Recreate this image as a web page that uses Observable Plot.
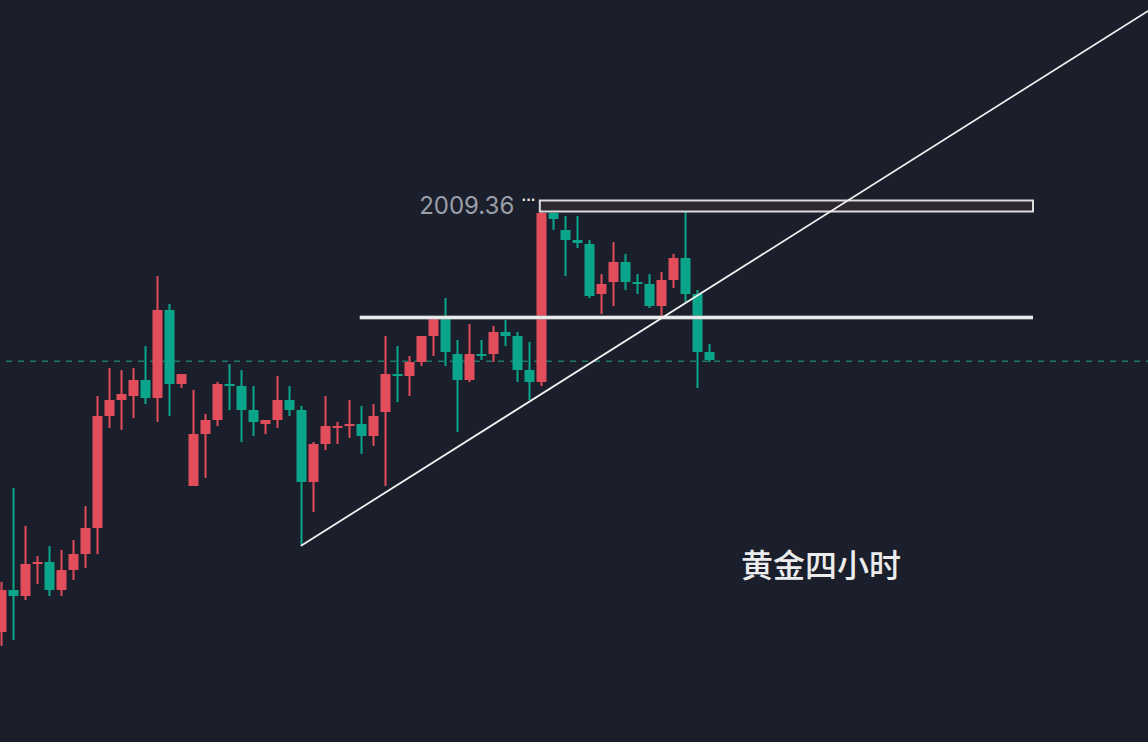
<!DOCTYPE html>
<html>
<head>
<meta charset="utf-8">
<script src="https://cdn.jsdelivr.net/npm/d3@7"></script>
<script src="https://cdn.jsdelivr.net/npm/@observablehq/plot@0.6"></script>
<style>
  html, body { margin: 0; padding: 0; background: #1b1f2b; overflow: hidden; }
  #chart svg { display: block; }
</style>
</head>
<body>
<div id="chart"></div>
<script>
// ---- data (4-hour gold candles) ----
const opens  = [1925.36,1933.76,1932.56,1938.96,1939.36,1933.76,1937.76,1940.96,1946.16,1968.56,
                1971.76,1972.56,1975.76,1972.16,1989.76,1974.96,1954.56,1964.96,1967.76,1974.96,
                1974.56,1969.76,1966.96,1967.76,1971.76,1969.76,1955.36,1962.96,1966.16,1966.56,
                1966.96,1964.56,1969.36,1976.96,1976.56,1979.36,1984.56,1988.16,1980.96,1975.76,
                1980.96,1980.96,1985.36,1984.56,1977.76,1975.36,2009.16,2005.76,2003.76,2002.96,
                1992.96,1995.36,1999.36,1995.36,1994.96,1990.56,1995.76,2000.16,1992.96,1981.36];
const highs  = [1935.36,1954.16,1946.56,1940.56,1942.56,1941.76,1943.76,1950.56,1972.56,1978.16,
                1977.76,1978.16,1982.56,1996.56,1990.96,1976.96,1973.76,1968.96,1975.36,1978.96,
                1977.76,1974.56,1967.76,1976.56,1974.56,1970.56,1963.36,1972.56,1967.36,1971.76,
                1970.56,1970.96,1984.56,1982.56,1980.56,1984.56,1988.16,1992.16,1983.76,1986.96,
                1983.76,1986.56,1987.76,1985.36,1983.36,2009.36,2009.16,2008.56,2008.56,2003.76,
                1996.96,2003.36,2000.96,1996.96,1996.96,1997.36,2000.96,2010.16,1993.76,1982.96];
const lows   = [1922.56,1923.76,1931.76,1934.96,1932.56,1932.56,1935.76,1938.16,1940.96,1966.16,
                1965.76,1968.16,1970.96,1967.36,1968.56,1974.16,1954.56,1956.16,1966.56,1969.76,
                1963.36,1964.56,1964.96,1966.16,1968.56,1942.76,1949.36,1961.76,1962.96,1964.16,
                1960.96,1962.56,1954.56,1971.36,1972.56,1978.56,1980.56,1978.56,1965.36,1975.36,
                1979.76,1979.36,1982.56,1975.36,1971.76,1974.56,2005.76,1996.56,2002.16,1992.16,
                1988.96,1990.56,1993.76,1992.96,1990.16,1988.16,1994.16,1991.36,1974.16,1979.36];
const closes = [1933.76,1932.56,1938.96,1939.36,1933.76,1937.76,1940.96,1946.16,1968.56,1971.76,
                1972.96,1975.76,1972.16,1989.76,1974.96,1976.96,1964.96,1967.76,1974.96,1974.56,
                1969.76,1967.36,1967.76,1971.76,1969.76,1955.36,1962.96,1966.56,1966.56,1966.96,
                1964.56,1968.56,1976.96,1976.56,1979.36,1984.56,1988.16,1981.36,1975.76,1980.96,
                1980.56,1985.36,1984.56,1977.76,1975.36,2009.16,2007.96,2003.76,2003.16,1992.56,
                1994.96,1999.36,1995.36,1994.96,1990.56,1995.76,2000.16,1992.96,1981.36,1979.76];

const lastPrice = 1979.6;            // dashed current-price line
const highLabel = ["2009.36"];
const highLevel = 2009.36;
const supportLevel = 1988.36;         // horizontal white line
const supportSpan = [29.9, 86];       // candle index span
const zoneBottom = 2009.46, zoneTop = 2011.66; // resistance box
const zoneSpan = [44.9, 86];
const trendIdx = [25, 95.6];          // rising trend line
const trendPrice = [1942.76, 2049.76];
const titleText = ["黄金四小时"];
const titlePos = {i: 68.3, price: 1938.56};

// ---- build tables ----
const candles = opens.map((o, i) => ({i, o, h: highs[i], l: lows[i], c: closes[i], up: closes[i] >= o}));
const trend = trendIdx.map((x, k) => ({x, y: trendPrice[k]}));
const RED = "#e14d5a", GREEN = "#0aa58b";
const col = d => d.up ? RED : GREEN;

const chart = Plot.plot({
  width: 1148,
  height: 742,
  margin: 0,
  x: {domain: [-1/12, 95.5833], axis: null},
  y: {domain: [1903.36, 2051.76], axis: null},
  style: {background: "#1b1f2b", overflow: "visible"},
  marks: [
    // current price dashed line
    Plot.ruleY([lastPrice], {stroke: "#1d7867", strokeWidth: 1.5, strokeDasharray: "6,6", strokeDashoffset: -6}),
    // wicks
    Plot.ruleX(candles, {x: "i", y1: "l", y2: "h", stroke: col, strokeWidth: 2}),
    // bodies
    Plot.ruleX(candles, {x: "i", y1: "o", y2: d => Math.abs(d.c - d.o) < 0.35 ? d.o + (d.up ? 0.4 : -0.4) : d.c, stroke: col, strokeWidth: 10}),
    // support line
    Plot.ruleY([supportLevel], {x1: supportSpan[0], x2: supportSpan[1], stroke: "#a9abb0", strokeWidth: 4}),
    Plot.ruleY([supportLevel], {x1: supportSpan[0], x2: supportSpan[1], stroke: "#f4f4f4", strokeWidth: 2.4}),
    // resistance box
    Plot.rect([{x1: zoneSpan[0], x2: zoneSpan[1], y1: zoneBottom, y2: zoneTop}],
      {x1: "x1", x2: "x2", y1: "y1", y2: "y2", fill: "#2d272f", stroke: "#dcdcdc", strokeWidth: 2}),
    // trend line
    Plot.line(trend, {x: "x", y: "y", stroke: "#f2f2f2", strokeWidth: 1.8}),
    // high label
    Plot.text(highLabel, {x: zoneSpan[0], y: highLevel + 1.3, text: d => d, textAnchor: "end", dx: -26,
      fill: "#9a9ea8", fontSize: 24, fontFamily: "Inter, 'Liberation Sans', sans-serif", letterSpacing: "-0.6px"}),
    Plot.text(["···"], {x: zoneSpan[0], y: highLevel + 2.4, text: d => d, textAnchor: "end", dx: -5,
      fill: "#e8e8e8", fontSize: 12, fontWeight: "bold", letterSpacing: "1.5px", fontFamily: "'DejaVu Sans', sans-serif"}),
    // title
    Plot.text(titleText, {x: titlePos.i, y: titlePos.price, text: d => d, fill: "#ececec", fontSize: 32,
      fontWeight: 500, fontFamily: "'Noto Sans CJK SC', sans-serif"})
  ]
});
document.getElementById("chart").appendChild(chart);
</script>
</body>
</html>
